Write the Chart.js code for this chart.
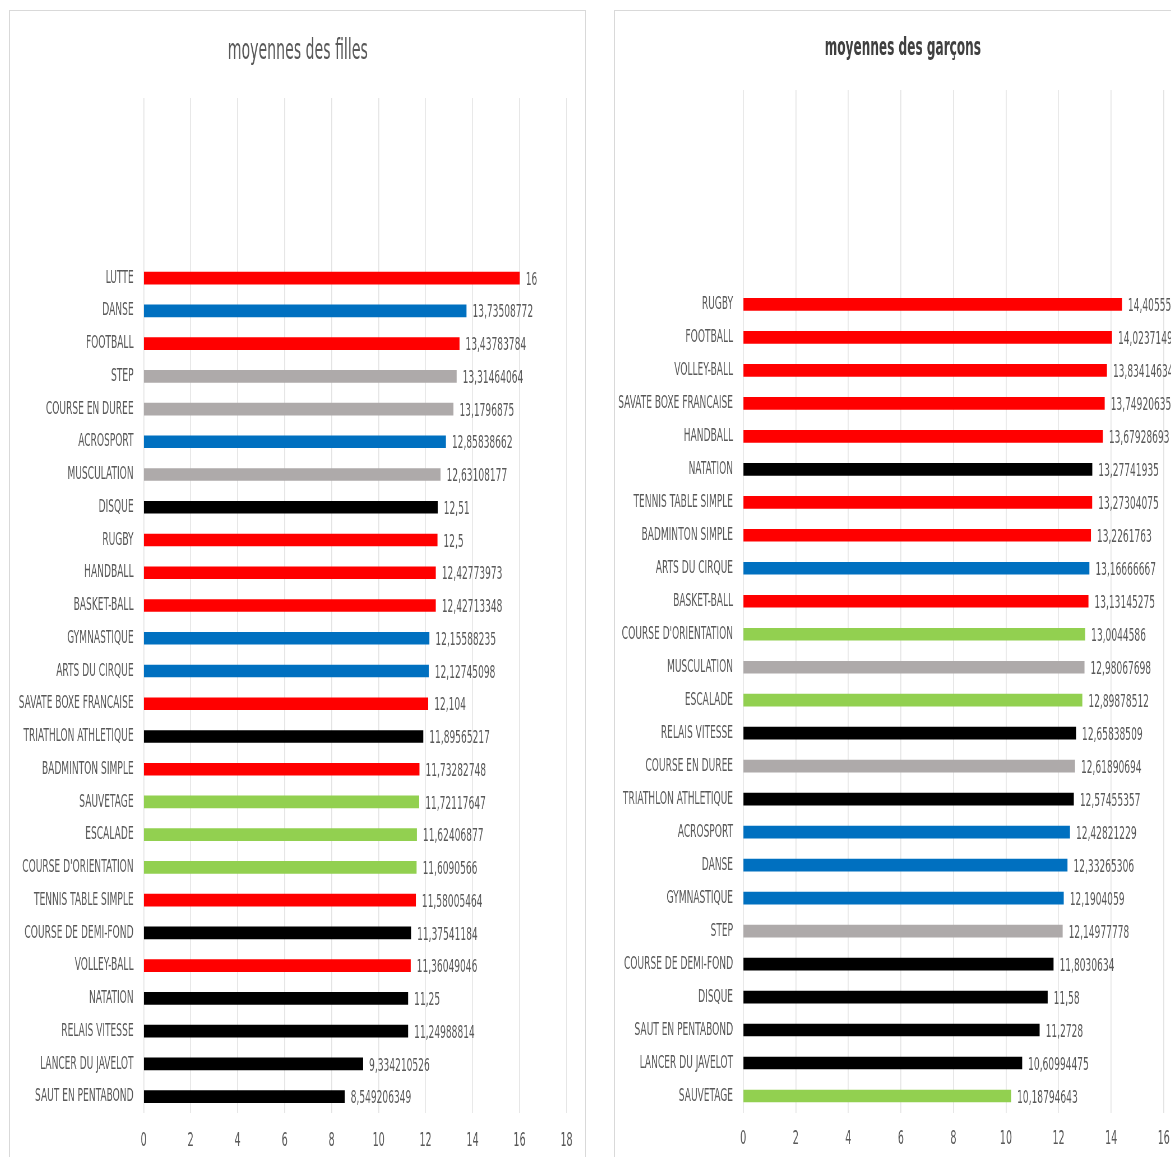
<!DOCTYPE html>
<html>
<head>
<meta charset="utf-8">
<script src="https://cdn.jsdelivr.net/npm/chart.js@4"></script>
<style>
    html, body { margin: 0; padding: 0; background: #fff; overflow: hidden; width: 1171px; height: 1157px; }
    .panel { position: absolute; top: 10px; border: 1px solid #d9d9d9; overflow: hidden; background: #fff; }
    .squeeze { transform: scaleX(0.56); transform-origin: left top; }
</style>
</head>
<body>
<div class="panel" id="panel-girls" style="left: 9px; width: 575px; height: 1160px;">
    <div class="squeeze" style="width: 1026.8px; height: 1146px;">
        <canvas id="girls-chart"></canvas>
    </div>
</div>
<div class="panel" id="panel-boys" style="left: 614px; width: 575px; height: 1160px;">
    <div class="squeeze" style="width: 1026.8px; height: 1146px;">
        <canvas id="boys-chart"></canvas>
    </div>
</div>
<script>
// moyennes des filles (top to bottom)
const girlsActivities = [
    "LUTTE", "DANSE", "FOOTBALL", "STEP", "COURSE EN DUREE", "ACROSPORT",
    "MUSCULATION", "DISQUE", "RUGBY", "HANDBALL", "BASKET-BALL", "GYMNASTIQUE",
    "ARTS DU CIRQUE", "SAVATE BOXE FRANCAISE", "TRIATHLON ATHLETIQUE", "BADMINTON SIMPLE",
    "SAUVETAGE", "ESCALADE", "COURSE D'ORIENTATION", "TENNIS TABLE SIMPLE",
    "COURSE DE DEMI-FOND", "VOLLEY-BALL", "NATATION", "RELAIS VITESSE",
    "LANCER DU JAVELOT", "SAUT EN PENTABOND"
];
const girlsAverages = [
    16, 13.73508772, 13.43783784, 13.31464064, 13.1796875, 12.85838662,
    12.63108177, 12.51, 12.5, 12.42773973, 12.42713348, 12.15588235,
    12.12745098, 12.104, 11.89565217, 11.73282748,
    11.72117647, 11.62406877, 11.6090566, 11.58005464,
    11.37541184, 11.36049046, 11.25, 11.24988814,
    9.334210526, 8.549206349
];

// moyennes des garçons (top to bottom)
const boysActivities = [
    "RUGBY", "FOOTBALL", "VOLLEY-BALL", "SAVATE BOXE FRANCAISE", "HANDBALL", "NATATION",
    "TENNIS TABLE SIMPLE", "BADMINTON SIMPLE", "ARTS DU CIRQUE", "BASKET-BALL",
    "COURSE D'ORIENTATION", "MUSCULATION", "ESCALADE", "RELAIS VITESSE", "COURSE EN DUREE",
    "TRIATHLON ATHLETIQUE", "ACROSPORT", "DANSE", "GYMNASTIQUE", "STEP",
    "COURSE DE DEMI-FOND", "DISQUE", "SAUT EN PENTABOND", "LANCER DU JAVELOT", "SAUVETAGE"
];
const boysAverages = [
    14.40555556, 14.02371495, 13.83414634, 13.74920635, 13.67928693, 13.27741935,
    13.27304075, 13.2261763, 13.16666667, 13.13145275,
    13.0044586, 12.98067698, 12.89878512, 12.65838509, 12.61890694,
    12.57455357, 12.42821229, 12.33265306, 12.1904059, 12.14977778,
    11.8030634, 11.58, 11.2728, 10.60994475, 10.18794643
];

// empty rows at the top of each sheet range
const girlsBlankRows = 5;
const boysBlankRows = 6;

const girlsTicks = [0, 2, 4, 6, 8, 10, 12, 14, 16, 18];
const boysTicks = [0, 2, 4, 6, 8, 10, 12, 14, 16];

// activity family -> colour
const RED = "#ff0000", BLUE = "#0070c0", GREY = "#aeaaaa", BLACK = "#000000", GREEN = "#92d050";
const activityColor = {
    "LUTTE": RED, "FOOTBALL": RED, "RUGBY": RED, "HANDBALL": RED, "BASKET-BALL": RED,
    "SAVATE BOXE FRANCAISE": RED, "BADMINTON SIMPLE": RED, "TENNIS TABLE SIMPLE": RED, "VOLLEY-BALL": RED,
    "DANSE": BLUE, "ACROSPORT": BLUE, "GYMNASTIQUE": BLUE, "ARTS DU CIRQUE": BLUE,
    "STEP": GREY, "COURSE EN DUREE": GREY, "MUSCULATION": GREY,
    "DISQUE": BLACK, "TRIATHLON ATHLETIQUE": BLACK, "COURSE DE DEMI-FOND": BLACK, "NATATION": BLACK,
    "RELAIS VITESSE": BLACK, "LANCER DU JAVELOT": BLACK, "SAUT EN PENTABOND": BLACK,
    "SAUVETAGE": GREEN, "ESCALADE": GREEN, "COURSE D'ORIENTATION": GREEN
};

const FONT = '"Liberation Sans Narrow", "DejaVu Sans Condensed", sans-serif';
const TEXT = "#595959";

const valueLabels = {
    id: "valueLabels",
    afterDatasetsDraw(chart) {
        const ctx = chart.ctx;
        const meta = chart.getDatasetMeta(0);
        const data = chart.data.datasets[0].data;
        ctx.save();
        ctx.font = "18px " + FONT;
        ctx.fillStyle = TEXT;
        ctx.textAlign = "left";
        ctx.textBaseline = "middle";
        meta.data.forEach((bar, i) => {
            if (data[i] == null) return;
            ctx.fillText(String(data[i]).replace(".", ","), bar.x + 11, bar.y + 2);
        });
        ctx.restore();
    }
};

// title centred on the whole panel, not on the padded layout box
const panelTitle = {
    id: "panelTitle",
    afterDraw(chart, args, o) {
        const ctx = chart.ctx;
        ctx.save();
        ctx.font = o.weight + " " + o.size + "px " + FONT;
        ctx.fillStyle = o.color;
        ctx.textAlign = "center";
        ctx.textBaseline = "middle";
        ctx.fillText(o.text, chart.width / 2, o.y);
        ctx.restore();
    }
};

function blanks(n) {
    return Array.from({ length: n }, () => "");
}

function makeChart(id, opts) {
    const labels = blanks(opts.blankRows).concat(opts.activities);
    const values = Array(opts.blankRows).fill(null).concat(opts.averages);
    const colors = labels.map(l => activityColor[l] || "#ffffff");

    return new Chart(document.getElementById(id), {
        type: "bar",
        data: {
            labels: labels,
            datasets: [{
                data: values,
                backgroundColor: colors,
                barThickness: 12,
                borderWidth: 0
            }]
        },
        options: {
            indexAxis: "y",
            responsive: true,
            maintainAspectRatio: false,
            animation: false,
            layout: { padding: { left: 0, right: opts.padRight, top: opts.padTop, bottom: 0 } },
            plugins: {
                legend: { display: false },
                tooltip: { enabled: false },
                title: { display: false },
                panelTitle: {
                    text: opts.title,
                    color: opts.titleColor,
                    size: opts.titleSize,
                    weight: opts.titleWeight,
                    y: opts.titleY
                }
            },
            scales: {
                x: {
                    min: 0,
                    max: opts.ticks[opts.ticks.length - 1],
                    afterBuildTicks(scale) {
                        scale.ticks = opts.ticks.map(v => ({ value: v }));
                    },
                    afterFit(scale) { scale.height = opts.xAxisHeight; },
                    grid: { color: "#e4e4e4", lineWidth: 1.7, drawTicks: false },
                    border: { display: false },
                    ticks: {
                        color: TEXT,
                        padding: opts.xTickPadding,
                        font: { family: FONT, size: 19 }
                    }
                },
                y: {
                    afterFit(scale) { scale.width = opts.yAxisWidth; },
                    grid: { display: false, drawTicks: false },
                    border: { display: false },
                    ticks: {
                        autoSkip: false,
                        color: TEXT,
                        padding: 18,
                        font: { family: FONT, size: 18 }
                    }
                }
            }
        },
        plugins: [valueLabels, panelTitle]
    });
}

makeChart("girls-chart", {
    activities: girlsActivities,
    averages: girlsAverages,
    blankRows: girlsBlankRows,
    ticks: girlsTicks,
    title: "moyennes des filles",
    titleColor: "#595959",
    titleSize: 28,
    titleWeight: "normal",
    titleY: 41,
    padTop: 87,
    yAxisWidth: 238.4,
    padRight: 34,
    xAxisHeight: 44,
    xTickPadding: 17
});

makeChart("boys-chart", {
    activities: boysActivities,
    averages: boysAverages,
    blankRows: boysBlankRows,
    ticks: boysTicks,
    title: "moyennes des garçons",
    titleColor: "#404040",
    titleSize: 24,
    titleWeight: "bold",
    titleY: 38,
    padTop: 79,
    yAxisWidth: 228.6,
    padRight: 48,
    xAxisHeight: 44.5,
    xTickPadding: 15
});
</script>
</body>
</html>
